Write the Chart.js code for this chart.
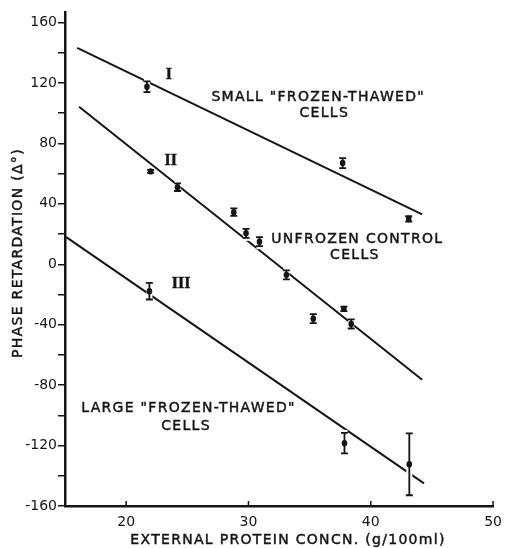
<!DOCTYPE html>
<html>
<head>
<meta charset="utf-8">
<script src="https://cdn.jsdelivr.net/npm/chart.js@4.4.0/dist/chart.umd.min.js"></script>
<style>
  body { margin: 0; background: #fff; }
  #wrap { width: 510px; height: 548px; }
</style>
</head>
<body>
<div id="wrap"><canvas id="phase-chart" width="510" height="548"></canvas></div>
<script>
// Curve I: small "frozen-thawed" cells
const protein1 = [21.7, 37.7, 43.1];
const retard1 = [117.5, 67, 30];
const err1 = [3.6, 3.3, 1.8];
// Curve II: unfrozen control cells
const protein2 = [22.0, 24.2, 28.8, 29.8, 30.9, 33.1, 35.3, 37.8, 38.4];
const retard2 = [61.5, 51, 34.5, 20.5, 15, -7, -36, -29.5, -39.5];
const err2 = [1, 2.5, 2.5, 3, 3, 3, 3, 1.5, 3];
// Curve III: large "frozen-thawed" cells
const protein3 = [21.9, 37.85, 43.15];
const retard3 = [-17.8, -118.4, -132.4];
const err3 = [5.5, 6.8, 20.5];
// fitted lines (end points)
const fitX1 = [16, 44.2];
const fitY1 = [143.2, 33];
const fitX2 = [16.15, 44.2];
const fitY2 = [104.3, -76.4];
const fitX3 = [15.1, 44.35];
const fitY3 = [18, -145];
// axis ticks
const xTicks = [20, 30, 40, 50];
const yTicks = [-160, -140, -120, -100, -80, -60, -40, -20, 0, 20, 40, 60, 80, 100, 120, 140, 160];

const INK = "#151515";
const FONT = "'DejaVu Sans', sans-serif";
const X_TITLE = "EXTERNAL PROTEIN CONCN. (g/100ml)";
const Y_TITLE = "PHASE RETARDATION (\u0394\u00b0)";

function pts(xs, ys) {
  return xs.map((x, i) => ({ x: x, y: ys[i] }));
}

// labels written on the plot, in data units
const notes = [
  { text: 'SMALL "FROZEN-THAWED"', x: 35.7, y: 110.7 },
  { text: "CELLS", x: 36.2, y: 100.1 },
  { text: "UNFROZEN CONTROL", x: 38.9, y: 16.7 },
  { text: "CELLS", x: 38.7, y: 6.1 },
  { text: 'LARGE "FROZEN-THAWED"', x: 25.1, y: -95.2 },
  { text: "CELLS", x: 24.9, y: -107.1 },
  { text: "I", x: 23.5, y: 125.3, roman: true },
  { text: "II", x: 23.65, y: 68.3, roman: true },
  { text: "III", x: 24.5, y: -13.1, roman: true },
];

// error bars with a white halo so the fitted lines break round the points
const errorBars = {
  id: "errorBars",
  afterDatasetsDraw(chart) {
    const ctx = chart.ctx;
    const xs = chart.scales.x, ys = chart.scales.y;
    chart.data.datasets.forEach((ds) => {
      if (!ds.errors) return;
      ds.data.forEach((p, i) => {
        const px = xs.getPixelForValue(p.x);
        const top = ys.getPixelForValue(p.y + ds.errors[i]);
        const bot = ys.getPixelForValue(p.y - ds.errors[i]);
        const py = ys.getPixelForValue(p.y);
        ctx.save();
        ctx.strokeStyle = "#fff";
        ctx.lineWidth = 6;
        ctx.beginPath();
        ctx.moveTo(px, top - 3);
        ctx.lineTo(px, bot + 3);
        ctx.stroke();
        ctx.strokeStyle = INK;
        ctx.lineWidth = 1.8;
        ctx.beginPath();
        ctx.moveTo(px, top);
        ctx.lineTo(px, bot);
        ctx.moveTo(px - 3.5, top);
        ctx.lineTo(px + 3.5, top);
        ctx.moveTo(px - 3.5, bot);
        ctx.lineTo(px + 3.5, bot);
        ctx.stroke();
        ctx.fillStyle = INK;
        ctx.beginPath();
        ctx.ellipse(px, py, 2.8, 3.2, 0, 0, Math.PI * 2);
        ctx.fill();
        ctx.restore();
      });
    });
  },
};

// text filled plus a thin stroke, to get the heavier lettering of the original
function inkText(ctx, text, x, y) {
  ctx.fillText(text, x, y);
  ctx.strokeText(text, x, y);
}

// inward x ticks, axis titles and text labels
const extras = {
  id: "extras",
  afterDraw(chart) {
    const ctx = chart.ctx;
    const xs = chart.scales.x, ys = chart.scales.y;
    ctx.save();
    ctx.strokeStyle = INK;
    ctx.lineWidth = 1.5;
    xTicks.forEach((v) => {
      const px = xs.getPixelForValue(v);
      ctx.beginPath();
      ctx.moveTo(px, ys.bottom);
      ctx.lineTo(px, ys.bottom - 5);
      ctx.stroke();
    });
    ctx.fillStyle = INK;
    ctx.lineWidth = 0.45;
    ctx.textAlign = "center";
    ctx.textBaseline = "middle";
    notes.forEach((n) => {
      ctx.letterSpacing = n.roman ? "0px" : "1.3px";
      ctx.font = n.roman ? "bold 16px 'Liberation Serif', serif" : "14px " + FONT;
      inkText(ctx, n.text, xs.getPixelForValue(n.x), ys.getPixelForValue(n.y));
    });
    // axis titles
    ctx.letterSpacing = "1.3px";
    ctx.font = "14px " + FONT;
    inkText(ctx, X_TITLE, (xs.left + xs.right) / 2 + 9, xs.bottom - 8);
    ctx.translate(ys.left + 18, (ys.top + ys.bottom) / 2 - 6);
    ctx.rotate(-Math.PI / 2);
    inkText(ctx, Y_TITLE, 0, 0);
    ctx.restore();
  },
};

function createChart() {
  const ctx = document.getElementById("phase-chart").getContext("2d");
  new Chart(ctx, {
    data: {
      datasets: [
        { type: "line", data: pts(fitX1, fitY1), borderColor: INK, borderWidth: 2, pointRadius: 0, order: 2 },
        { type: "line", data: pts(fitX2, fitY2), borderColor: INK, borderWidth: 2, pointRadius: 0, order: 2 },
        { type: "line", data: pts(fitX3, fitY3), borderColor: INK, borderWidth: 2, pointRadius: 0, order: 2 },
        { type: "scatter", data: pts(protein1, retard1), errors: err1, pointRadius: 0, order: 1 },
        { type: "scatter", data: pts(protein2, retard2), errors: err2, pointRadius: 0, order: 1 },
        { type: "scatter", data: pts(protein3, retard3), errors: err3, pointRadius: 0, order: 1 },
      ],
    },
    options: {
      responsive: false,
      animation: false,
      layout: { padding: { top: 12, right: 12, left: 0, bottom: 0 } },
      plugins: { legend: { display: false }, tooltip: { enabled: false } },
      scales: {
        x: {
          type: "linear",
          min: 15,
          max: 50,
          afterBuildTicks: (scale) => { scale.ticks = xTicks.map((v) => ({ value: v })); },
          afterFit: (scale) => { scale.height = 42; },
          grid: { drawOnChartArea: false, drawTicks: false },
          border: { color: INK, width: 2.5 },
          ticks: { color: INK, font: { family: FONT, size: 14 }, padding: 8, maxRotation: 0 },
        },
        y: {
          type: "linear",
          min: -160,
          max: 167,
          afterBuildTicks: (scale) => { scale.ticks = yTicks.map((v) => ({ value: v })); },
          afterFit: (scale) => { scale.width = 65; },
          grid: { drawOnChartArea: false, drawTicks: true, tickLength: 7, color: INK, lineWidth: 1.5 },
          border: { color: INK, width: 2.5 },
          ticks: {
            color: INK,
            font: { family: FONT, size: 14 },
            padding: 1,
            callback: (v) => (v % 40 === 0 ? String(v) : ""),
          },
        },
      },
    },
    plugins: [errorBars, extras],
  });
}

document.addEventListener("DOMContentLoaded", function () {
  createChart();
});
</script>
</body>
</html>
